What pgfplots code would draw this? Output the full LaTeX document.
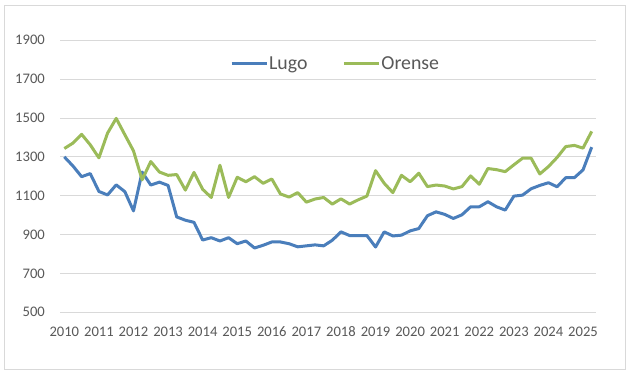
\documentclass[border=0pt]{standalone}
\usepackage{pgfplots}
\pgfplotsset{compat=1.18}
\usepackage{pgfplotstable}
\usepackage{fontspec}
\setmainfont{Carlito}
\definecolor{lugo}{HTML}{4A7EBB}
\definecolor{orense}{HTML}{9BBB59}
\definecolor{gridc}{HTML}{D9D9D9}
\definecolor{txt}{HTML}{595959}
\pgfplotstableread{
x y
0 1300
1 1253
2 1198
3 1214
4 1122
5 1104
6 1156
7 1121
8 1022
9 1222
10 1155
11 1170
12 1153
13 991
14 974
15 963
16 872
17 884
18 867
19 884
20 853
21 867
22 831
23 845
24 862
25 862
26 853
27 837
28 842
29 847
30 842
31 871
32 914
33 895
34 895
35 895
36 836
37 914
38 893
39 897
40 919
41 931
42 997
43 1017
44 1004
45 983
46 1002
47 1043
48 1043
49 1069
50 1043
51 1026
52 1098
53 1103
54 1136
55 1153
56 1167
57 1146
58 1193
59 1193
60 1233
61 1350
}\lugo
\pgfplotstableread{
x y
0 1343
1 1371
2 1416
3 1362
4 1295
5 1422
6 1498
7 1414
8 1331
9 1182
10 1276
11 1222
12 1205
13 1209
14 1129
15 1220
16 1133
17 1091
18 1257
19 1091
20 1195
21 1172
22 1198
23 1164
24 1186
25 1109
26 1093
27 1116
28 1067
29 1083
30 1091
31 1057
32 1084
33 1057
34 1079
35 1098
36 1229
37 1164
38 1116
39 1205
40 1172
41 1216
42 1147
43 1155
44 1150
45 1135
46 1147
47 1202
48 1159
49 1240
50 1234
51 1224
52 1259
53 1293
54 1293
55 1212
56 1250
57 1297
58 1353
59 1359
60 1345
61 1431
}\orense
\begin{document}
\begin{tikzpicture}
\path[fill=white] (0,0) rectangle (628bp,371bp);
\draw[gridc, line width=0.8bp] (4bp,2bp) rectangle (625bp,366bp);
\begin{axis}[
  at={(60bp,58.7bp)}, anchor=south west,
  scale only axis, width=536bp, height=272bp,
  xmin=-0.5, xmax=61.5, ymin=500, ymax=1900,
  axis line style={draw=none},
  major tick length=0pt,
  xtick={0,4,...,60},
  xticklabels={2010,2011,2012,2013,2014,2015,2016,2017,2018,2019,2020,2021,2022,2023,2024,2025},
  ytick={500,700,...,1900},
  ymajorgrids, grid style={gridc, line width=0.8bp},
  tick label style={font=\fontsize{14.6bp}{16bp}\selectfont, text=txt, inner sep=0pt},
  /pgf/number format/assume math mode=true,
  /pgf/number format/1000 sep={},
  xticklabel style={anchor=base, yshift=-24bp},
  yticklabel style={anchor=east, xshift=-15bp},
  legend style={at={(0.317,0.913)}, anchor=west, draw=none, fill=none,
    inner sep=0pt, font=\fontsize{19.8bp}{21bp}\selectfont, text=txt,
    legend columns=2, /tikz/every even column/.append style={column sep=34bp},
    nodes={inner sep=1bp}},
  legend cell align=left,
  legend image code/.code={\draw[#1] (0bp,0bp) -- (35bp,0bp);},
]
\addplot[lugo, line width=3bp, line join=round] table[x=x,y=y]{\lugo};
\addlegendentry{Lugo}
\addplot[orense, line width=3bp, line join=round] table[x=x,y=y]{\orense};
\addlegendentry{Orense}
\end{axis}
\end{tikzpicture}
\end{document}
